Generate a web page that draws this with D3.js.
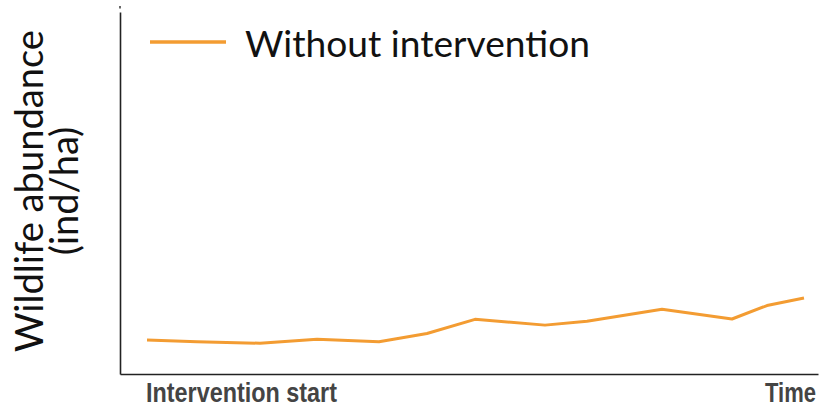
<!DOCTYPE html>
<html>
<head>
<meta charset="utf-8">
<script src="https://cdn.jsdelivr.net/npm/d3@7"></script>
<style>
  html, body { margin: 0; padding: 0; background: #fff; }
  svg { display: block; }
</style>
</head>
<body>
<svg id="chart" width="821" height="408"></svg>
<script>
// Data (time in arbitrary units since intervention start, abundance in arbitrary units)
const timeSteps = [27, 77, 140, 197, 259, 307, 355, 425, 467, 542, 612, 647, 684];
const withoutIntervention = [9.4, 8.9, 8.5, 9.6, 8.9, 11.2, 15.1, 13.5, 14.6, 17.9, 15.2, 18.9, 21.0];
const seriesNames = ["Without intervention"];
const xLabels = ["Intervention start", "Time"];
const yLabelLines = ["Wildlife abundance", "(ind/ha)"];

const svg = d3.select("#chart");
const W = 821, H = 408;
const margin = { left: 120, right: 3, top: 12, bottom: 34 };

const x = d3.scaleLinear().domain([0, 698]).range([margin.left, W - margin.right]);
const y = d3.scaleLinear().domain([0, 100]).range([H - margin.bottom, margin.top]);

// Axes (no ticks)
const xAxis = d3.axisBottom(x).tickValues([]).tickSizeOuter(0);
const yAxis = d3.axisLeft(y).tickValues([]).tickSizeOuter(0);

svg.append("g")
  .attr("transform", `translate(0,${y(0)})`)
  .call(xAxis)
  .call(g => g.select(".domain").attr("stroke", "#222").attr("stroke-width", 1.6));

svg.append("g")
  .attr("transform", `translate(${x(0)},0)`)
  .call(yAxis)
  .call(g => g.select(".domain").attr("stroke", "#222").attr("stroke-width", 1.6));

// small dot at top of y axis
svg.append("rect")
  .attr("x", x(0) - 0.8).attr("y", 6).attr("width", 1.6).attr("height", 2.5)
  .attr("fill", "#444");

// Line
const color = "#F39C32";
const data = timeSteps.map((t, i) => ({ t, v: withoutIntervention[i] }));
const line = d3.line().x(d => x(d.t)).y(d => y(d.v));
svg.append("path")
  .datum(data)
  .attr("fill", "none")
  .attr("stroke", color)
  .attr("stroke-width", 3)
  .attr("stroke-linejoin", "round")
  .attr("d", line);

// Legend
const lg = svg.append("g");
lg.append("line")
  .attr("x1", 150).attr("x2", 226).attr("y1", 42).attr("y2", 42)
  .attr("stroke", color).attr("stroke-width", 3.5);
lg.append("text")
  .attr("x", 245).attr("y", 57)
  .attr("font-family", "Lato, 'Open Sans', sans-serif")
  .attr("font-size", 37)
  .attr("textLength", 345)
  .attr("lengthAdjust", "spacingAndGlyphs")
  .attr("fill", "#111")
  .text(seriesNames[0]);

// Y label
const yl = svg.append("text")
  .attr("transform", `translate(0,191) rotate(-90)`)
  .attr("text-anchor", "middle")
  .attr("font-family", "Lato, 'Open Sans', sans-serif")
  .attr("font-size", 38)
  .attr("fill", "#111");
yl.append("tspan").attr("x", 0).attr("y", 43)
  .attr("textLength", 322).attr("lengthAdjust", "spacingAndGlyphs")
  .text(yLabelLines[0]);
yl.append("tspan").attr("x", 0).attr("y", 78).text(yLabelLines[1]);

// X labels (horizontally condensed via transform)
function condensedLabel(txt, left, baseline, targetWidth) {
  const g = svg.append("g");
  const t = g.append("text")
    .attr("x", 0).attr("y", 0)
    .attr("font-family", "'Liberation Sans', Arial, sans-serif")
    .attr("font-weight", "bold")
    .attr("font-size", 27)
    .attr("fill", "#444")
    .text(txt);
  const natural = t.node().getComputedTextLength();
  const s = targetWidth / natural;
  g.attr("transform", `translate(${left},${baseline}) scale(${s},1)`);
}
condensedLabel(xLabels[0], 146, 402, 191);
condensedLabel(xLabels[1], 765, 402, 51);
</script>
</body>
</html>
